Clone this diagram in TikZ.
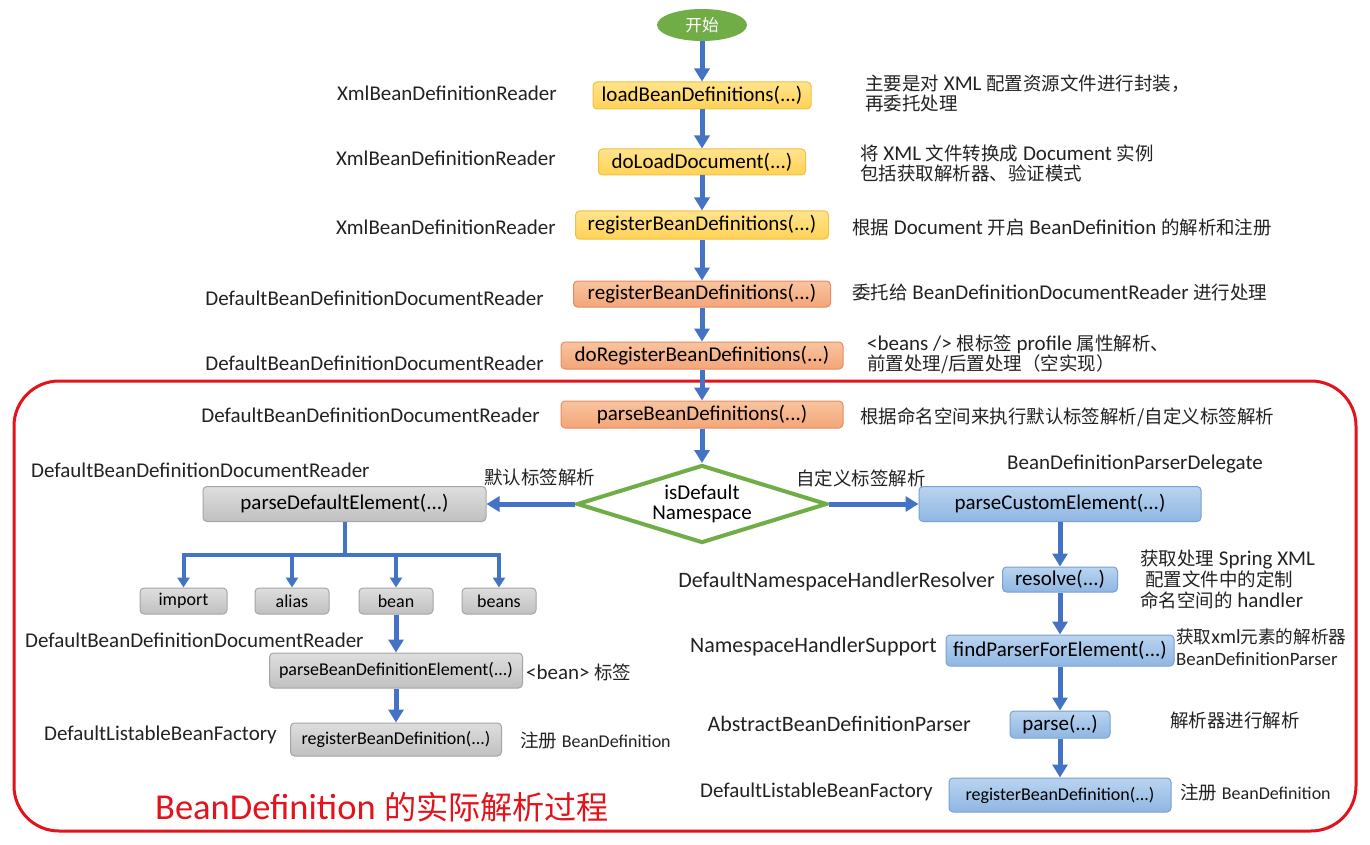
\documentclass[tikz,border=0pt]{standalone}
\usepackage{fontspec}
\setmainfont{Carlito}
\newfontfamily\zhfont{Noto Sans CJK SC}[Scale=0.88]
\newcommand\zh[1]{{\zhfont #1}}
\newcommand\fmain{\fontsize{21}{20}\selectfont}
\newcommand\fsmall{\fontsize{18}{21}\selectfont}
\newcommand\fwide{\fontsize{22}{24}\selectfont}
\usepackage{tikz}
\usetikzlibrary{shapes.geometric,arrows.meta}

\definecolor{arrowblue}{HTML}{4472C4}
\definecolor{startgreen}{HTML}{70AD47}
\definecolor{framered}{HTML}{E3121B}
\definecolor{labelgray}{HTML}{222222}

\tikzset{
  every picture/.style = {
    font=\fmain
  },
  flow/.style={
    draw=arrowblue,
    line width=5pt,
    -{Triangle[width=15pt,length=13pt]}
  },
  trunk/.style={
    draw=arrowblue,
    line width=4pt
  },
  branch/.style={
    draw=arrowblue,
    line width=4pt,
    -{Triangle[width=12pt,length=10pt]}
  },
  box/.style={
    draw,
    line width=1pt,
    rounded corners=4pt,
    inner sep=0pt,
    text=black
  },
  ybox/.style={box, draw={rgb,255:red,242;green,190;blue,70}, top color={rgb,255:red,255;green,228;blue,140}, bottom color={rgb,255:red,255;green,210;blue,85}},
  obox/.style={box, draw={rgb,255:red,232;green,140;blue,95}, top color={rgb,255:red,248;green,196;blue,160}, bottom color={rgb,255:red,243;green,165;blue,120}},
  gbox/.style={box, draw={rgb,255:red,165;green,165;blue,165}, top color={rgb,255:red,222;green,222;blue,222}, bottom color={rgb,255:red,192;green,192;blue,192}},
  bbox/.style={box, draw={rgb,255:red,120;green,160;blue,210}, top color={rgb,255:red,185;green,212;blue,240}, bottom color={rgb,255:red,143;green,182;blue,226}},
  startnode/.style={
    ellipse,
    fill=startgreen,
    text=white,
    inner sep=0pt,
    minimum width=90,
    minimum height=32,
    font=\fontsize{19}{21}\selectfont
  },
  decision/.style={
    diamond,
    draw=startgreen,
    line width=4pt,
    fill=white,
    aspect=3.2,
    inner sep=0pt,
    align=center,
    minimum width=250,
    minimum height=78
  },
  cls/.style={
    inner sep=0pt,
    text=labelgray
  },
  note/.style={
    anchor=west,
    align=left,
    inner sep=0pt,
    text=labelgray
  },
  title/.style={
    text=framered,
    inner sep=0pt,
    font=\fontsize{36.5}{40}\selectfont
  },
  frame/.style={
    draw=framered,
    line width=3pt,
    rounded corners=45pt
  }
}

\begin{document}
\begin{tikzpicture}[x=1pt,y=-1pt]
\useasboundingbox (0,0) rectangle (1370,845);

% red frame around the actual parsing
\draw[frame] (14,381) rectangle (1356,831);
\node[title] (ttl) at (382,807) {BeanDefinition \zh{的实际解析过程}};

% main chain
\node[startnode] (start) at (702,25) {\zh{开始}};
\node[ybox, minimum width=218, minimum height=27] (load) at (702,95.5) {loadBeanDefinitions(...)};
\node[ybox, minimum width=207, minimum height=26] (doload) at (702,162) {doLoadDocument(...)};
\node[ybox, minimum width=253, minimum height=28] (regy) at (702,225) {registerBeanDefinitions(...)};
\node[obox, minimum width=257, minimum height=26] (rego) at (702,294) {registerBeanDefinitions(...)};
\node[obox, minimum width=282, minimum height=27] (doreg) at (702,355.5) {doRegisterBeanDefinitions(...)};
\node[obox, minimum width=282, minimum height=27] (pbd) at (702,414.5) {parseBeanDefinitions(...)};
\node[decision] (isdef) at (702,504) {isDefault\\Namespace};

\draw[flow] (start) -- (load);
\draw[flow] (load) -- (doload);
\draw[flow] (doload) -- (regy);
\draw[flow] (regy) -- (rego);
\draw[flow] (rego) -- (doreg);
\draw[flow] (doreg) -- (pbd);
\draw[flow] (pbd) -- (isdef);

% class names of the main chain
\node[cls, anchor=east] (c1) at (557,93) {XmlBeanDefinitionReader};
\node[cls, anchor=east] (c2) at (556,158) {XmlBeanDefinitionReader};
\node[cls, anchor=east] (c3) at (556,227) {XmlBeanDefinitionReader};
\node[cls, anchor=east] (c4) at (544,298) {DefaultBeanDefinitionDocumentReader};
\node[cls, anchor=east] (c5) at (544,363) {DefaultBeanDefinitionDocumentReader};
\node[cls, anchor=east] (c6) at (540,415) {DefaultBeanDefinitionDocumentReader};

% notes of the main chain
\node[note] (n1) at (865,93.5) {\zh{主要是对} XML \zh{配置资源文件进行封装，}\\\zh{再委托处理}};
\node[note] (n2) at (860,163) {\zh{将} XML \zh{文件转换成} Document \zh{实例}\\\zh{包括获取解析器、验证模式}};
\node[note] (n3) at (852,227) {\zh{根据} Document \zh{开启} BeanDefinition \zh{的解析和注册}};
\node[note] (n4) at (852,292) {\zh{委托给} BeanDefinitionDocumentReader \zh{进行处理}};
\node[note, font=\fontsize{21}{18.5}\selectfont] (n5) at (867,354) {<beans /> \zh{根标签} profile \zh{属性解析、}\\\zh{前置处理/后置处理（空实现）}};
\node[note] (n6) at (860,417) {\zh{根据命名空间来执行默认标签解析/自定义标签解析}};

% default namespace
\node[gbox, minimum width=283, minimum height=35] (pde) at (344.5,504) {parseDefaultElement(...)};
\node[gbox, minimum width=87, minimum height=26, font=\fsmall] (imp) at (183.5,601) {import};
\node[gbox, minimum width=74, minimum height=26, font=\fsmall] (ali) at (292,601) {alias};
\node[gbox, minimum width=74, minimum height=26, font=\fsmall] (bean) at (396,601) {bean};
\node[gbox, minimum width=74, minimum height=26, font=\fsmall] (beans) at (499,601) {beans};
\node[gbox, minimum width=253, minimum height=35, font=\fsmall] (pbde) at (396,670.5) {parseBeanDefinitionElement(...)};
\node[gbox, minimum width=211, minimum height=33, font=\fsmall] (rbdl) at (396,739.5) {registerBeanDefinition(...)};
\coordinate (split) at (344.5,555);

\draw[flow] (isdef.west) -- (pde.east);
\draw[trunk] (pde.south) -- (split);
\draw[branch] (split) -| (imp.north);
\draw[branch] (split) -| (ali.north);
\draw[branch] (split) -| (bean.north);
\draw[branch] (split) -| (beans.north);
\draw[flow] (bean) -- (pbde);
\draw[flow] (pbde) -- (rbdl);

\node[cls, anchor=west] (c7) at (31,470) {DefaultBeanDefinitionDocumentReader};
\node[cls, anchor=west] (l1) at (484,477) {\zh{默认标签解析}};
\node[cls, anchor=west] (c8) at (25,640) {DefaultBeanDefinitionDocumentReader};
\node[cls, anchor=east] (c9) at (277,735) {DefaultListableBeanFactory};
\node[note] (n7) at (526,672) {<bean> \zh{标签}};
\node[note] (n8) at (520,740) {\zh{注册} {\fsmall BeanDefinition}};

% custom namespace
\node[bbox, minimum width=282, minimum height=35] (pce) at (1060,504) {parseCustomElement(...)};
\node[bbox, minimum width=115, minimum height=25] (res) at (1060,579.5) {resolve(...)};
\node[bbox, minimum width=228, minimum height=31] (fpe) at (1060,650.5) {findParserForElement(...)};
\node[bbox, minimum width=100, minimum height=27] (prs) at (1060,724.5) {parse(...)};
\node[bbox, minimum width=222, minimum height=34, font=\fsmall] (rbdr) at (1060,795) {registerBeanDefinition(...)};

\draw[flow] (isdef.east) -- (pce.west);
\draw[flow] (pce) -- (res);
\draw[flow] (res) -- (fpe);
\draw[flow] (fpe) -- (prs);
\draw[flow] (prs) -- (rbdr);

\node[cls, anchor=west] (l2) at (796,478) {\zh{自定义标签解析}};
\node[cls, anchor=west] (c10) at (1007,464) {BeanDefinitionParserDelegate};
\node[cls, anchor=east, font=\fwide] (c11) at (995,582) {DefaultNamespaceHandlerResolver};
\node[cls, anchor=east, font=\fwide] (c12) at (937,647) {NamespaceHandlerSupport};
\node[cls, anchor=east, font=\fwide] (c13) at (971,724) {AbstractBeanDefinitionParser};
\node[cls, anchor=east] (c14) at (933,792) {DefaultListableBeanFactory};

\node[note, font=\fontsize{21}{21}\selectfont] (n9) at (1140,579) {\zh{获取处理} Spring XML\\\hspace*{5pt}\zh{配置文件中的定制}\\\zh{命名空间的} handler};
\node[note, font=\fontsize{20}{22}\selectfont] (n10) at (1176,647) {\zh{获取}xml\zh{元素的解析器}\\{\fontsize{18.8}{22}\selectfont BeanDefinitionParser}};
\node[note] (n11) at (1170,720) {\zh{解析器进行解析}};
\node[note] (n12) at (1180,792) {\zh{注册} {\fsmall BeanDefinition}};
\end{tikzpicture}
\end{document}
